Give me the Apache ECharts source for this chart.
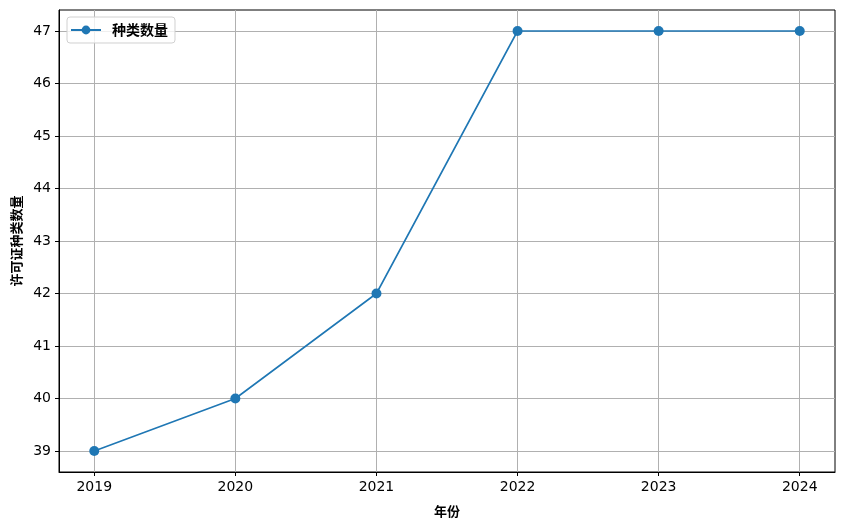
<!DOCTYPE html>
<html><head><meta charset="utf-8">
<script src="https://cdn.jsdelivr.net/npm/echarts@6/dist/echarts.min.js"></script>
<style>html,body{margin:0;padding:0;background:#fff}#c{width:843px;height:527px}</style>
</head><body><div id="c"></div>
<script>
const years = [2019, 2020, 2021, 2022, 2023, 2024];
const counts = [39, 40, 42, 47, 47, 47];
const yTicks = [39, 40, 41, 42, 43, 44, 45, 46, 47];
const seriesName = '种类数量';
const xName = '年份';
const yName = '许可证种类数量';

const chart = echarts.init(document.getElementById('c'), null, {renderer: 'canvas'});
const cjk = '"Noto Sans CJK SC", sans-serif';
chart.setOption({
  animation: false,
  grid: {left: 59, right: 8, top: 10, bottom: 55, containLabel: false, outerBoundsMode: 'none',
         show: true, borderColor: '#000', borderWidth: 1, backgroundColor: 'transparent'},
  legend: {
    left: 67, top: 17, orient: 'vertical',
    data: [seriesName],
    itemWidth: 30, itemHeight: 11, itemGap: 4,
    padding: [6, 7, 6, 3],
    borderColor: '#d0d0d0', borderWidth: 1, borderRadius: 3,
    backgroundColor: 'rgba(255,255,255,0.8)',
    textStyle: {fontFamily: cjk, fontSize: 14, fontWeight: 'bold', color: '#000', padding: [0, 0, 0, 6]}
  },
  xAxis: {
    type: 'value', min: 2018.75, max: 2024.25,
    name: xName, nameLocation: 'middle', nameGap: 33,
    nameTextStyle: {fontFamily: cjk, fontSize: 13, fontWeight: 'bold', color: '#000'},
    axisLine: {show: true, lineStyle: {color: '#000', width: 1}},
    axisTick: {show: true, length: 4, lineStyle: {color: '#000'}, customValues: years},
    axisLabel: {customValues: years, fontFamily: 'DejaVu Sans', fontSize: 14, color: '#000', margin: 8, formatter: v => String(v)},
    splitLine: {show: true, lineStyle: {color: '#b0b0b0', width: 1}}
  },
  yAxis: {
    type: 'value', min: 38.6, max: 47.4,
    name: yName, nameLocation: 'middle', nameGap: 36,
    nameTextStyle: {fontFamily: cjk, fontSize: 13, fontWeight: 'bold', color: '#000'},
    axisLine: {show: true, lineStyle: {color: '#000', width: 1}},
    axisTick: {show: true, length: 4, lineStyle: {color: '#000'}, customValues: yTicks},
    axisLabel: {customValues: yTicks, fontFamily: 'DejaVu Sans', fontSize: 14, color: '#000', margin: 8, formatter: v => String(v)},
    splitLine: {show: true, lineStyle: {color: '#b0b0b0', width: 1}}
  },
  series: [{
    name: seriesName, type: 'line',
    data: years.map((y, i) => [y, counts[i]]),
    symbol: 'circle', symbolSize: 10,
    itemStyle: {color: '#1f77b4'},
    lineStyle: {color: '#1f77b4', width: 1.6}
  }]
});
</script>
</body></html>
